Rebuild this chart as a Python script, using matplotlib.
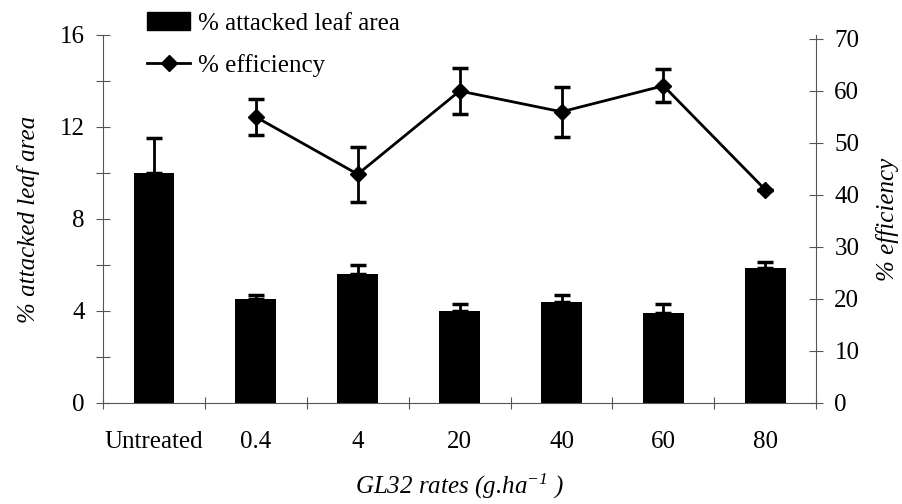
import matplotlib
matplotlib.use("Agg")
import matplotlib.pyplot as plt
import numpy as np
from matplotlib.lines import Line2D
from matplotlib.patches import Patch

categories = ["Untreated", "0.4", "4", "20", "40", "60", "80"]
attacked = [10.0, 4.5, 5.6, 4.0, 4.4, 3.9, 5.85]
attacked_err = [1.5, 0.2, 0.4, 0.3, 0.3, 0.4, 0.3]
eff_categories = ["0.4", "4", "20", "40", "60", "80"]
efficiency = [55.0, 44.0, 60.0, 56.0, 61.0, 41.0]
efficiency_err = [3.4, 5.3, 4.5, 4.8, 3.2, 0.0]
left_ticks = [0, 4, 8, 12, 16]
right_ticks = [0, 10, 20, 30, 40, 50, 60, 70]

plt.rcParams['font.family'] = ['Liberation Serif', 'DejaVu Serif']
plt.rcParams['mathtext.fontset'] = 'custom'
plt.rcParams['mathtext.it'] = 'Liberation Serif:italic'
plt.rcParams['mathtext.rm'] = 'Liberation Serif:italic'

fig = plt.figure(figsize=(9.03, 5.04), dpi=100)
ax = fig.add_axes([0.114, 0.2004, 0.790, 0.7302])
x = np.arange(len(categories))
ax.bar(x, attacked, width=0.4, color='black', zorder=2)
ax.errorbar(x, attacked, yerr=[np.zeros(len(attacked)), attacked_err],
            fmt='none', ecolor='black', elinewidth=2, capsize=6, capthick=2.5, zorder=3)
ax.set_xlim(-0.5, len(categories) - 0.5)
ax.set_ylim(0, 16)
ax.set_yticks(left_ticks)
ax.set_yticks([2, 6, 10, 14], minor=True)
ax.set_xticks(x)
ax.set_xticklabels(categories)
ax.set_xticks(np.arange(-0.5, len(categories)), minor=True)
ax.tick_params(axis='x', which='major', length=0, pad=20, labelsize=18)
ax.tick_params(axis='x', which='minor', length=8, direction='inout', width=0.8, color='#555555')
ax.tick_params(axis='y', which='both', length=10, direction='inout', width=0.8, color='#555555',
               labelsize=18, pad=8)
for s in ['top', 'right']:
    ax.spines[s].set_visible(False)
for s in ['left', 'bottom']:
    ax.spines[s].set_color('#555555')
    ax.spines[s].set_linewidth(0.8)
ax.set_ylabel('% attacked leaf area', fontsize=18, style='italic', labelpad=14)
ax.set_xlabel('GL32 rates (g.ha$^{\\mathit{-1}}$ )', fontsize=18, style='italic', labelpad=14)

ax2 = ax.twinx()
xe = [categories.index(c) for c in eff_categories]
ax2.errorbar(xe, efficiency, yerr=[efficiency_err, efficiency_err], fmt='-D', color='black',
             ms=8, lw=2, elinewidth=2, capsize=6, capthick=2.5, zorder=4)
ax2.set_ylim(0, 70 * 368 / 364)
ax2.set_yticks(right_ticks)
ax2.tick_params(axis='y', length=10, direction='inout', width=0.8, color='#555555',
                labelsize=18, pad=8)
for s in ['top', 'left', 'bottom']:
    ax2.spines[s].set_visible(False)
ax2.spines['right'].set_color('#555555')
ax2.spines['right'].set_linewidth(0.8)
ax2.set_ylabel('% efficiency', fontsize=18, style='italic', rotation=90, labelpad=12)

handles = [Patch(facecolor='black', edgecolor='black'),
           Line2D([0], [0], color='black', lw=2, marker='D', ms=8)]
fig.legend(handles, ['% attacked leaf area', '% efficiency'], loc='upper left',
           bbox_to_anchor=(0.143, 1.01), frameon=False, fontsize=18,
           handlelength=1.75, handletextpad=0.3, labelspacing=0.75, borderaxespad=0.3)

fig.savefig('out.png', dpi=100)
